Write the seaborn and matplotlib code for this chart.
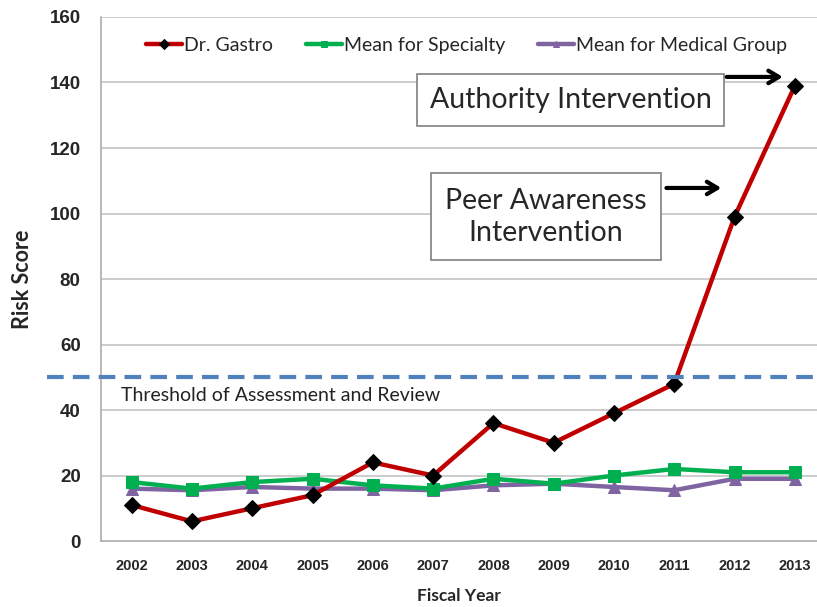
import pandas as pd
import seaborn as sns
import matplotlib.pyplot as plt

years = ["2002", "2003", "2004", "2005", "2006", "2007",
         "2008", "2009", "2010", "2011", "2012", "2013"]
dr_gastro = [11, 6, 10, 14, 24, 20, 36, 30, 39, 48, 99, 139]
specialty = [18, 16, 18, 19, 17, 16, 19, 17.5, 20, 22, 21, 21]
medical_group = [16, 15.5, 16.5, 16, 16, 15.5, 17, 17.5, 16.5, 15.5, 19, 19]
threshold = 50

sns.set_style("white")
plt.rcParams["font.family"] = ["Lato", "DejaVu Sans"]

fig = plt.figure(figsize=(8.17, 6.07), dpi=100)
ax = fig.add_axes([0.1242, 0.1087, 0.876, 0.8633])

df = pd.DataFrame({
    "year": years,
    "Dr. Gastro": dr_gastro,
    "Mean for Specialty": specialty,
    "Mean for Medical Group": medical_group,
})

# grid first so lines sit on top
for v in range(20, 161, 20):
    ax.axhline(v, color="#BFBFBF", lw=1.1, zorder=0)

sns.lineplot(data=df, x="year", y="Dr. Gastro", ax=ax, color="#C00000",
             lw=3.2, marker="D", markersize=8.5, markerfacecolor="black",
             markeredgecolor="black", label="Dr. Gastro", zorder=5)
sns.lineplot(data=df, x="year", y="Mean for Specialty", ax=ax, color="#00B050",
             lw=3.2, marker="s", markersize=8, markeredgecolor="#00B050",
             label="Mean for Specialty", zorder=4)
sns.lineplot(data=df, x="year", y="Mean for Medical Group", ax=ax, color="#8064A2",
             lw=3.2, marker="^", markersize=8, markeredgecolor="#8064A2",
             label="Mean for Medical Group", zorder=3)

# threshold line runs past the axis on the left
ax.plot([-1.4, 11.6], [threshold, threshold], color="#4F81BD", lw=3,
        ls=(0, (4, 2.2)), clip_on=False, zorder=6)
ax.text(-0.18, 44.5, "Threshold of Assessment and Review", fontsize=14,
        color="#222222", va="center")

ax.set_xlim(-0.5, 11.37)
ax.set_ylim(0, 160)
ax.set_yticks(range(0, 161, 20))
ax.set_yticklabels([str(v) for v in range(0, 161, 20)],
                   fontsize=13.5, fontweight="bold", family="Liberation Sans")
ax.set_xticks(range(len(years)))
ax.set_xticklabels(years, fontsize=10.5, fontweight="bold", family="Liberation Sans")
ax.set_xticks([i - 0.5 for i in range(len(years))], minor=True)
ax.tick_params(axis="x", which="major", length=0, pad=13)
ax.tick_params(axis="x", which="minor", length=5, color="#A6A6A6", width=1)
ax.tick_params(axis="y", length=5, color="#A6A6A6", width=1, pad=10)

for side in ["top", "right"]:
    ax.spines[side].set_visible(False)
for side in ["left", "bottom"]:
    ax.spines[side].set_color("#A6A6A6")
    ax.spines[side].set_linewidth(1.1)

ax.set_xlabel("Fiscal Year", fontsize=12.5, fontweight="bold", labelpad=11)
ax.set_ylabel("Risk Score", fontsize=15.5, fontweight="bold", labelpad=12)

ax.legend(loc="upper left", bbox_to_anchor=(0.038, 0.995), ncol=3, frameon=False,
          fontsize=14, handlelength=1.85, handletextpad=0.1, columnspacing=1.7,
          markerscale=0.6)

ax.text(7.28, 134.6, "Authority Intervention", fontsize=20.5, ha="center",
        va="center", bbox=dict(boxstyle="square,pad=0.45", fc="white",
                               ec="#7F7F7F", lw=1.2), zorder=7)
ax.text(6.87, 99, "Peer Awareness\nIntervention", fontsize=20.5, ha="center",
        va="center", linespacing=1.3,
        bbox=dict(boxstyle="square,pad=0.5", fc="white", ec="#7F7F7F", lw=1.2),
        zorder=7)

arrow = dict(arrowstyle="->,head_width=0.45,head_length=0.75",
             lw=3, color="black", shrinkA=0, shrinkB=0)
ax.annotate("", xy=(10.8, 141.7), xytext=(9.87, 141.7),
            arrowprops=arrow, zorder=8)
ax.annotate("", xy=(9.78, 107.8), xytext=(8.87, 107.8),
            arrowprops=arrow, zorder=8)

fig.savefig("out.png", dpi=100)
